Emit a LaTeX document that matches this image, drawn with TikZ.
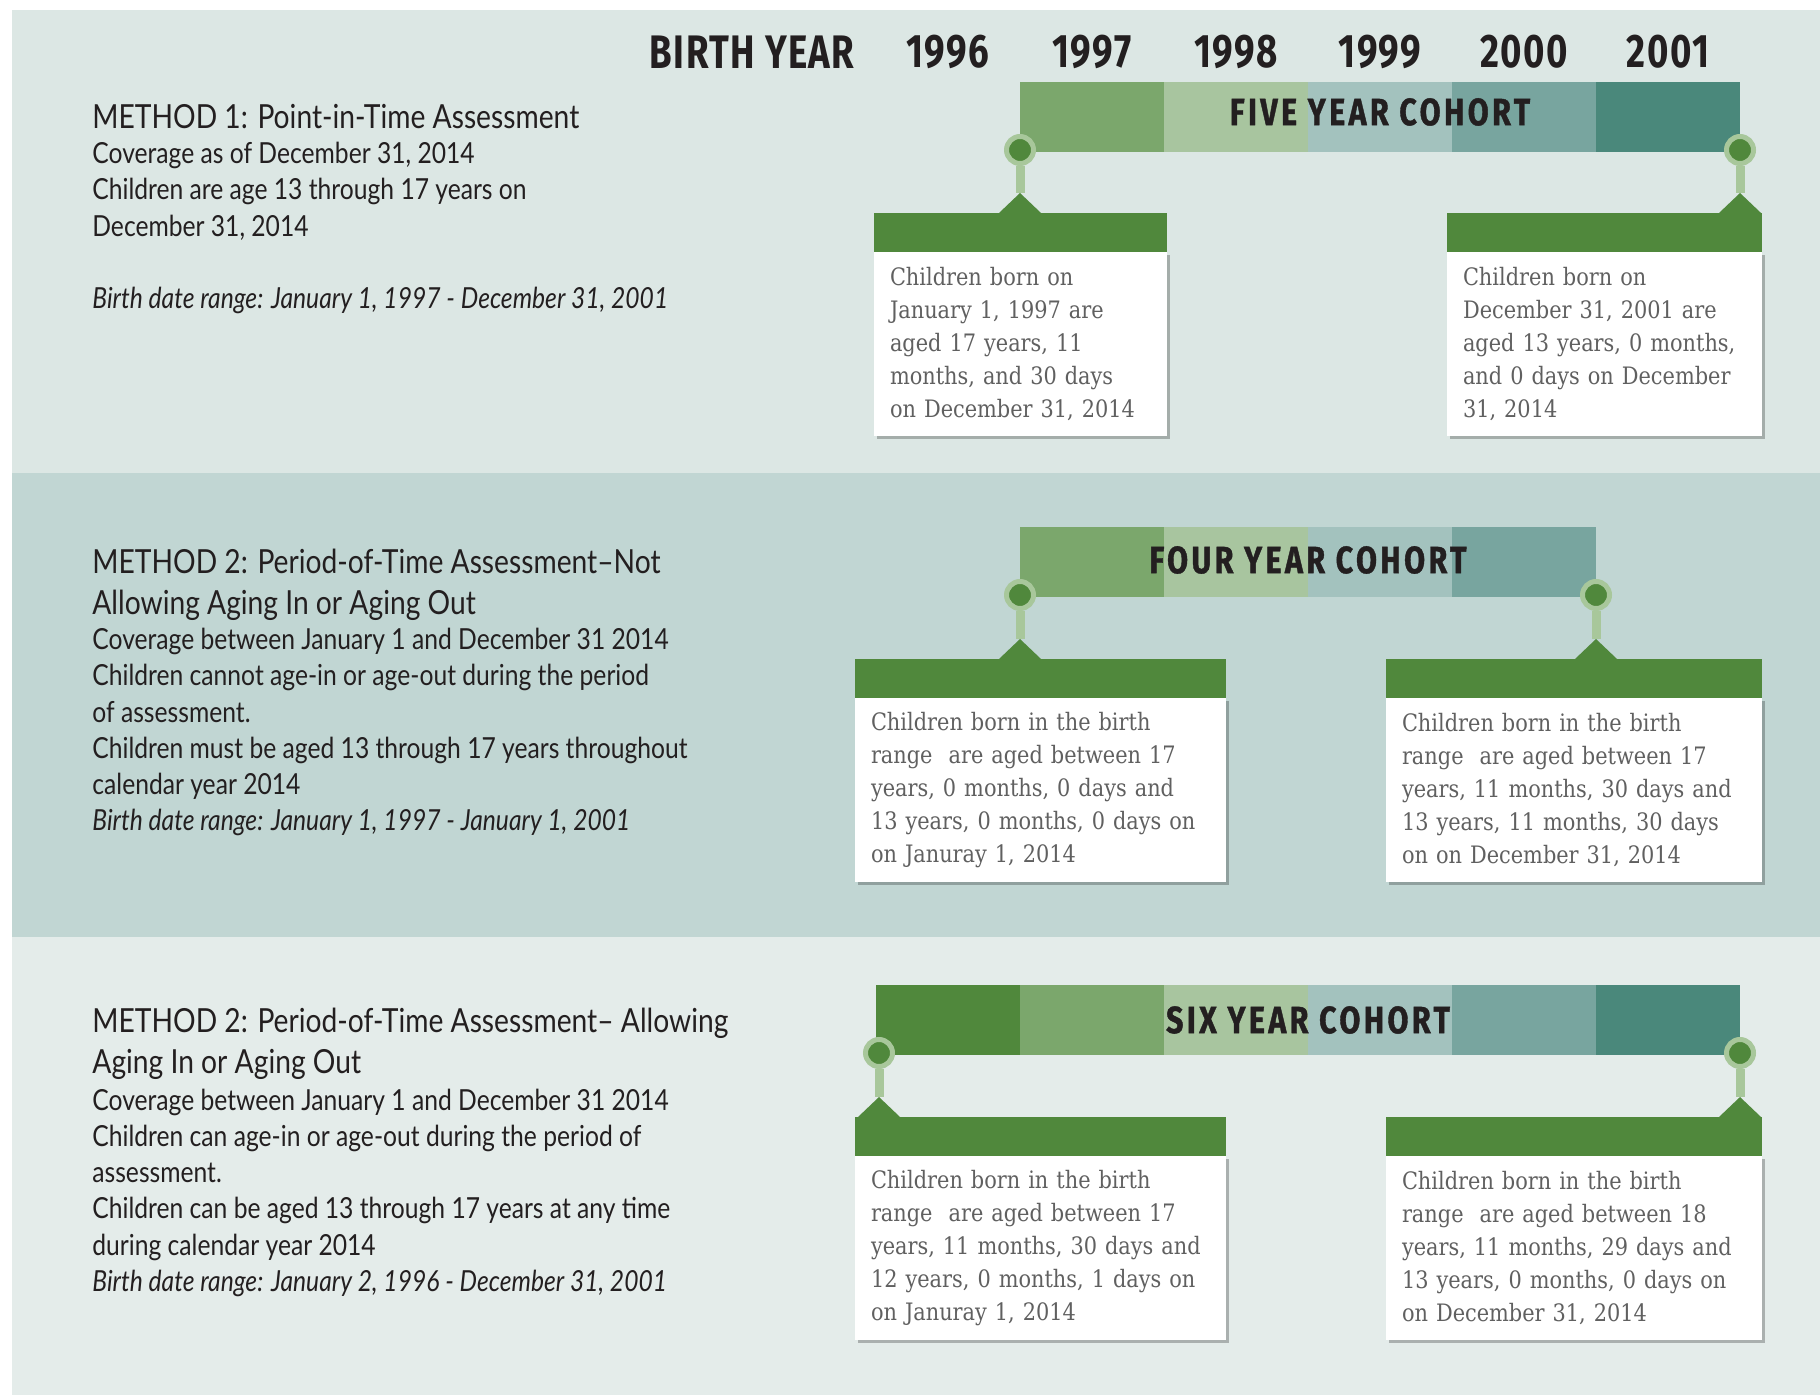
\documentclass[tikz,border=0pt]{standalone}
\usepackage{fontspec}
\usepackage{xcolor}
\usepackage{tikz}
\usetikzlibrary{positioning,shadows}
\setmainfont{Lato}
\newfontfamily\leftfont[FakeStretch=0.85]{Lato}
\newfontfamily\yearfont[FakeStretch=0.78,LetterSpace=3]{Fira Sans}
\newfontfamily\cohortfont[FakeStretch=0.8,LetterSpace=9,FakeBold=1]{Fira Sans}
\newfontfamily\cardfont[FakeStretch=0.87]{DejaVu Serif}
\definecolor{panelA}{HTML}{DCE7E4}
\definecolor{panelB}{HTML}{C1D6D3}
\definecolor{panelC}{HTML}{E4ECEA}
\definecolor{ink}{HTML}{231F20}
\definecolor{cardtext}{HTML}{606060}
\definecolor{cardgreen}{HTML}{50883C}
\definecolor{ringgreen}{HTML}{A8C79B}
\definecolor{yr1996}{HTML}{50883C}
\definecolor{yr1997}{HTML}{7BA76C}
\definecolor{yr1998}{HTML}{A8C59F}
\definecolor{yr1999}{HTML}{A3C2BE}
\definecolor{yr2000}{HTML}{78A59F}
\definecolor{yr2001}{HTML}{4A887B}

\begin{document}
\begin{tikzpicture}[x=0.5pt,y=-0.5pt,
    seg/.style={anchor=north west,inner sep=0,outer sep=0,minimum width=72pt,minimum height=35pt},
    year/.style={font=\yearfont\bfseries\fontsize{23.5}{23.5}\selectfont,text=ink,inner sep=0},
    cohort/.style={font=\cohortfont\bfseries\fontsize{19}{19}\selectfont,text=ink,inner sep=0},
    marker/.style={circle,fill=cardgreen,draw=ringgreen,line width=2.5pt,minimum size=13.5pt,inner sep=0},
    stem/.style={draw=ringgreen,line width=4.5pt},
    header/.style={fill=cardgreen,inner sep=0,outer sep=0,minimum height=19.5pt,anchor=north west},
    card/.style={fill=white,inner xsep=8pt,inner ysep=0,outer sep=0,minimum height=92pt,align=left,
        font=\cardfont\fontsize{12}{16.5}\selectfont,text=cardtext,
        drop shadow={shadow xshift=1.5pt,shadow yshift=-1.5pt,opacity=0.25,fill=black}},
    method/.style={font=\leftfont\fontsize{16.6}{20.5}\selectfont,text=ink,anchor=north west,inner sep=0,align=left},
    detail/.style={font=\leftfont\fontsize{14.5}{18.1}\selectfont,text=ink,anchor=north west,inner sep=0,align=left}]
    \useasboundingbox (0,0) rectangle (1820,1395);
    % panels
    \fill[panelA] (12,10) rectangle (1820,473);
    \fill[panelB] (12,473) rectangle (1820,937);
    \fill[panelC] (12,937) rectangle (1820,1395);

    % birth year scale
    \node[year,anchor=east] (birth) at (855,52) {BIRTH YEAR};
    \foreach \yr [count=\i from 0] in {1996,...,2001}
        \node[year] (y\yr) at (948+144*\i,52) {\yr};

    % method 1
    \node[method] (t1) at (92,104) {METHOD 1: Point-in-Time Assessment};
    \node[detail] (d1) at (92,142) {Coverage as of December 31, 2014\\
        Children are age 13 through 17 years on\\December 31, 2014\\[18.1pt]
        \itshape Birth date range: January 1, 1997 - December 31, 2001};
    \foreach \yr [count=\i from 1] in {1997,...,2001}
        \node[seg,fill=yr\yr] (a\yr) at (876+144*\i,82) {};
    \node[cohort] (c1) at (1380,112) {FIVE YEAR COHORT};
    \node[marker] (m1a) at (1020,150) {};
    \node[marker] (m1b) at (1740,150) {};
    \coordinate (p1a) at (1020,193);
    \coordinate (p1b) at (1740,193);
    \draw[stem] (m1a) -- (p1a);
    \draw[stem] (m1b) -- (p1b);
    \fill[cardgreen] (p1a) -- ++(-21,20) -- ++(42,0) -- cycle;
    \fill[cardgreen] (p1b) -- ++(-21,20) -- ++(42,0) -- cycle;
    \node[header,minimum width=146.5pt] (h1a) at (874,213) {};
    \node[card,text width=130.5pt,below=0pt of h1a] (b1a) {Children born on\\January 1, 1997 are\\
        aged 17 years, 11\\months, and 30 days\\on December 31, 2014};
    \node[header,minimum width=157.5pt] (h1b) at (1447,213) {};
    \node[card,text width=141.5pt,below=0pt of h1b] (b1b) {Children born on\\December 31, 2001 are\\
        aged 13 years, 0 months,\\and 0 days on December\\31, 2014};

    % method 2, not allowing aging in or out
    \node[method] (t2) at (92,549) {METHOD 2: Period-of-Time Assessment–Not\\Allowing Aging In or Aging Out};
    \node[detail] (d2) at (92,628) {Coverage between January 1 and December 31 2014\\
        Children cannot age-in or age-out during the period\\of assessment.\\
        Children must be aged 13 through 17 years throughout\\calendar year 2014\\
        \itshape Birth date range: January 1, 1997 - January 1, 2001};
    \foreach \yr [count=\i from 1] in {1997,...,2000}
        \node[seg,fill=yr\yr] (b\yr) at (876+144*\i,527) {};
    \node[cohort] (c2) at (1308,560) {FOUR YEAR COHORT};
    \node[marker] (m2a) at (1020,595) {};
    \node[marker] (m2b) at (1596,595) {};
    \coordinate (p2a) at (1020,639);
    \coordinate (p2b) at (1596,639);
    \draw[stem] (m2a) -- (p2a);
    \draw[stem] (m2b) -- (p2b);
    \fill[cardgreen] (p2a) -- ++(-21,20) -- ++(42,0) -- cycle;
    \fill[cardgreen] (p2b) -- ++(-21,20) -- ++(42,0) -- cycle;
    \node[header,minimum width=185.5pt] (h2a) at (855,659) {};
    \node[card,text width=169.5pt,below=0pt of h2a] (b2a) {Children born in the birth\\range\ \ are aged between 17\\
        years, 0 months, 0 days and\\13 years, 0 months, 0 days on\\on Januray 1, 2014};
    \node[header,minimum width=188pt] (h2b) at (1386,659) {};
    \node[card,text width=172pt,below=0pt of h2b] (b2b) {Children born in the birth\\range\ \ are aged between 17\\
        years, 11 months, 30 days and\\13 years, 11 months, 30 days\\on on December 31, 2014};

    % method 2, allowing aging in or out
    \node[method] (t3) at (92,1008) {METHOD 2: Period-of-Time Assessment– Allowing\\Aging In or Aging Out};
    \node[detail] (d3) at (92,1088.5) {Coverage between January 1 and December 31 2014\\
        Children can age-in or age-out during the period of\\assessment.\\
        Children can be aged 13 through 17 years at any time\\during calendar year 2014\\
        \itshape Birth date range: January 2, 1996 - December 31, 2001};
    \foreach \yr [count=\i from 0] in {1996,...,2001}
        \node[seg,fill=yr\yr] (c\yr) at (876+144*\i,985) {};
    \node[cohort] (c3) at (1308,1020) {SIX YEAR COHORT};
    \node[marker] (m3a) at (879,1053) {};
    \node[marker] (m3b) at (1740,1053) {};
    \coordinate (p3a) at (879,1097);
    \coordinate (p3b) at (1740,1097);
    \draw[stem] (m3a) -- (p3a);
    \draw[stem] (m3b) -- (p3b);
    \fill[cardgreen] (p3a) -- ++(-21,20) -- ++(42,0) -- cycle;
    \fill[cardgreen] (p3b) -- ++(-21,20) -- ++(42,0) -- cycle;
    \node[header,minimum width=185.5pt] (h3a) at (855,1117) {};
    \node[card,text width=169.5pt,below=0pt of h3a] (b3a) {Children born in the birth\\range\ \ are aged between 17\\
        years, 11 months, 30 days and\\12 years, 0 months, 1 days on\\on Januray 1, 2014};
    \node[header,minimum width=188pt] (h3b) at (1386,1117) {};
    \node[card,text width=172pt,below=0pt of h3b] (b3b) {Children born in the birth\\range\ \ are aged between 18\\
        years, 11 months, 29 days and\\13 years, 0 months, 0 days on\\on December 31, 2014};
\end{tikzpicture}
\end{document}
